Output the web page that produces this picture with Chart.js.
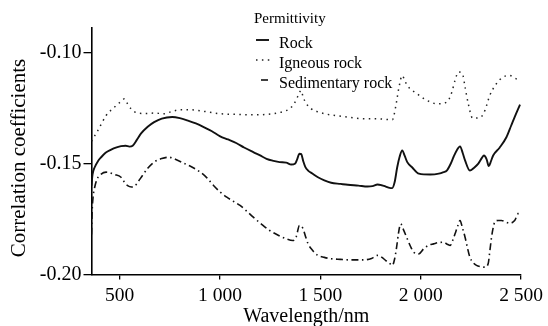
<!DOCTYPE html>
<html lang="en">
<head>
<meta charset="UTF-8">
<title>Correlation coefficients</title>
<script src="https://cdn.jsdelivr.net/npm/chart.js@4.4.0/dist/chart.umd.min.js"></script>
<style>
    html, body { margin: 0; padding: 0; background: #fff; }
    .chart-box { width: 548px; height: 326px; }
</style>
</head>
<body>
<div class="chart-box"><canvas id="chart" width="548" height="326"></canvas></div>
<script>
    const legendTitle = 'Permittivity'
    const seriesNames = ['Rock', 'Igneous rock', 'Sedimentary rock']

    const xTicks = [500, 1000, 1500, 2000, 2500]
    const xTickLabels = ['500', '1 000', '1 500', '2 000', '2 500']
    const yTicks = [-0.20, -0.15, -0.10]
    const yTickLabels = ['-0.20', '-0.15', '-0.10']

    const rockNm = [360, 365, 376, 392, 408, 430, 458, 485, 507, 530, 549, 565, 585, 606, 640, 672, 710, 762, 800, 837,
        880, 919, 960, 1001, 1040, 1083, 1120, 1166, 1200, 1232, 1265, 1297, 1330, 1355, 1375, 1385, 1396, 1405, 1415,
        1425, 1439, 1460, 1488, 1520, 1554, 1600, 1637, 1690, 1735, 1760, 1785, 1805, 1826, 1845, 1858, 1870, 1883,
        1895, 1908, 1920, 1933, 1957, 1991, 2048, 2090, 2114, 2130, 2150, 2163, 2180, 2196, 2210, 2221, 2245, 2265,
        2287, 2305, 2315, 2328, 2339, 2350, 2361, 2393, 2427, 2451, 2468, 2485, 2495]
    const rockR = [-0.160, -0.155, -0.1517, -0.1490, -0.1472, -0.1452, -0.1438, -0.1428, -0.1422, -0.1420, -0.1424,
        -0.1420, -0.1395, -0.1366, -0.1335, -0.1314, -0.1298, -0.1291, -0.1296, -0.1306, -0.1320, -0.1336, -0.1355,
        -0.1378, -0.1392, -0.1409, -0.1428, -0.1449, -0.1464, -0.1479, -0.1488, -0.1494, -0.1496, -0.1505, -0.1500,
        -0.1480, -0.1456, -0.1458, -0.1490, -0.1515, -0.1532, -0.1545, -0.1562, -0.1576, -0.1587, -0.1592, -0.1596,
        -0.1600, -0.1604, -0.1602, -0.1595, -0.1598, -0.1604, -0.1610, -0.1611, -0.1585, -0.1517, -0.1470, -0.1441,
        -0.1465, -0.1494, -0.1517, -0.1546, -0.1550, -0.1546, -0.1539, -0.1532, -0.1500, -0.1472, -0.1440, -0.1423,
        -0.1455, -0.1486, -0.1532, -0.1520, -0.1501, -0.1475, -0.1464, -0.1480, -0.1512, -0.1490, -0.1464, -0.1429,
        -0.1382, -0.1329, -0.1291, -0.1255, -0.1235]

    const igneousNm = [360, 367, 392, 433, 475, 505, 524, 540, 557, 590, 630, 672, 721, 760, 803, 850, 886, 940, 1001,
        1083, 1166, 1265, 1320, 1347, 1370, 1390, 1404, 1414, 1430, 1455, 1490, 1521, 1580, 1637, 1719, 1785, 1859,
        1875, 1892, 1908, 1920, 1933, 1982, 2031, 2081, 2130, 2155, 2171, 2188, 2208, 2221, 2237, 2259, 2295, 2320,
        2344, 2377, 2410, 2443, 2476, 2492]
    const igneousR = [-0.1400, -0.1389, -0.1351, -0.1284, -0.1246, -0.1222, -0.1209, -0.1232, -0.1254, -0.1273,
        -0.1275, -0.1273, -0.1276, -0.1266, -0.1258, -0.1258, -0.1261, -0.1268, -0.1276, -0.1279, -0.1281, -0.1276,
        -0.1265, -0.1254, -0.1230, -0.1194, -0.1171, -0.1200, -0.1230, -0.1254, -0.1268, -0.1276, -0.1285, -0.1291,
        -0.1299, -0.1299, -0.1303, -0.1246, -0.1156, -0.1104, -0.1125, -0.1149, -0.1186, -0.1216, -0.1231, -0.1224,
        -0.1179, -0.1126, -0.1088, -0.1096, -0.1156, -0.1231, -0.1296, -0.1294, -0.1261, -0.1194, -0.1141, -0.1111,
        -0.1104, -0.1119, -0.1125]

    const sedimentaryNm = [360, 363, 368, 376, 388, 400, 433, 475, 507, 525, 540, 560, 573, 590, 614, 640, 672, 710,
        746, 780, 820, 860, 902, 935, 968, 1000, 1034, 1066, 1100, 1130, 1166, 1205, 1248, 1290, 1330, 1363, 1380, 1396,
        1405, 1414, 1425, 1439, 1460, 1488, 1520, 1554, 1600, 1637, 1719, 1755, 1785, 1805, 1826, 1845, 1859, 1870,
        1880, 1890, 1900, 1915, 1933, 1950, 1966, 1991, 2015, 2040, 2064, 2090, 2114, 2135, 2147, 2160, 2171, 2185,
        2196, 2208, 2221, 2233, 2245, 2260, 2278, 2300, 2320, 2336, 2345, 2353, 2361, 2369, 2385, 2402, 2420, 2443,
        2468, 2484, 2495]
    const sedimentaryR = [-0.182, -0.172, -0.165, -0.1607, -0.1570, -0.1554, -0.1539, -0.1550, -0.1562, -0.1585,
        -0.1600, -0.1606, -0.1604, -0.1585, -0.1554, -0.1522, -0.1494, -0.1478, -0.1472, -0.1482, -0.1499, -0.1516,
        -0.1539, -0.1565, -0.1599, -0.1628, -0.1652, -0.1670, -0.1689, -0.1712, -0.1742, -0.1772, -0.1802, -0.1823,
        -0.1839, -0.1847, -0.1830, -0.1779, -0.1782, -0.1794, -0.1825, -0.1862, -0.1890, -0.1914, -0.1923, -0.1929,
        -0.1932, -0.1934, -0.1934, -0.1928, -0.1914, -0.1922, -0.1937, -0.1950, -0.1959, -0.1930, -0.1877, -0.1810,
        -0.1772, -0.1800, -0.1839, -0.1875, -0.1900, -0.1907, -0.1884, -0.1868, -0.1862, -0.1856, -0.1855, -0.1865,
        -0.1869, -0.1845, -0.1817, -0.1780, -0.1757, -0.1790, -0.1832, -0.1880, -0.1922, -0.1945, -0.1959, -0.1965,
        -0.1967, -0.1952, -0.1890, -0.1832, -0.1790, -0.1764, -0.1757, -0.1757, -0.1762, -0.1769, -0.1757, -0.1727,
        -0.1722]

    const SERIF = "'Liberation Serif', 'Times New Roman', serif"

    function toPoints(xs, ys) {
        return xs.map((x, i) => ({x: x, y: ys[i]}))
    }

    // legend in the upper middle of the plot, drawn from the dataset styles
    const legendBox = {
        id: 'legendBox',
        afterDraw(chart) {
            const ctx = chart.ctx
            ctx.save()
            ctx.fillStyle = '#000'
            ctx.textBaseline = 'alphabetic'
            ctx.font = '15px ' + SERIF
            ctx.fillText(legendTitle, 254, 23)
            ctx.font = '16px ' + SERIF
            chart.data.datasets.forEach((ds, i) => {
                const base = 48 + i * 20
                const ly = base - 8
                ctx.strokeStyle = ds.borderColor
                ctx.lineWidth = ds.borderWidth
                if (i === 1) {
                    ctx.setLineDash(ds.borderDash)
                    ctx.beginPath(); ctx.moveTo(256, ly); ctx.lineTo(270, ly); ctx.stroke()
                } else if (i === 2) {
                    ctx.setLineDash([])
                    ctx.beginPath(); ctx.moveTo(261, ly); ctx.lineTo(268, ly); ctx.stroke()
                } else {
                    ctx.setLineDash([])
                    ctx.beginPath(); ctx.moveTo(256, ly); ctx.lineTo(269, ly); ctx.stroke()
                }
                ctx.fillText(ds.label, 279, base)
            })
            // y axis title
            ctx.font = '21px ' + SERIF
            ctx.textAlign = 'center'
            ctx.textBaseline = 'middle'
            ctx.translate(19, 158)
            ctx.rotate(-Math.PI / 2)
            ctx.fillText('Correlation coefficients', 0, 0)
            ctx.restore()
        }
    }

    new Chart(document.getElementById('chart'), {
        type: 'line',
        data: {
            datasets: [
                {
                    label: seriesNames[0],
                    data: toPoints(rockNm, rockR),
                    borderColor: '#111',
                    borderWidth: 1.9,
                    borderDash: [],
                },
                {
                    label: seriesNames[1],
                    data: toPoints(igneousNm, igneousR),
                    borderColor: '#222',
                    borderWidth: 1.5,
                    borderDash: [1.5, 4.4],
                },
                {
                    label: seriesNames[2],
                    data: toPoints(sedimentaryNm, sedimentaryR),
                    borderColor: '#111',
                    borderWidth: 1.6,
                    borderDash: [7, 3.5, 1.5, 3.5],
                },
            ],
        },
        options: {
            responsive: false,
            animation: false,
            devicePixelRatio: 1,
            elements: {
                point: {radius: 0},
                line: {cubicInterpolationMode: 'monotone', borderCapStyle: 'butt', fill: false},
            },
            layout: {padding: {top: 28, right: 24, left: 0, bottom: 0}},
            plugins: {
                legend: {display: false},
                tooltip: {enabled: false},
            },
            scales: {
                x: {
                    type: 'linear',
                    min: 360,
                    max: 2500,
                    afterBuildTicks: (scale) => { scale.ticks = xTicks.map(v => ({value: v})) },
                    afterFit: (scale) => { scale.height = 51.5 },
                    ticks: {
                        color: '#000',
                        font: {family: SERIF, size: 19.5},
                        padding: 5,
                        maxRotation: 0,
                        autoSkip: false,
                        callback: (v) => xTickLabels[xTicks.indexOf(v)],
                    },
                    grid: {drawOnChartArea: false, drawTicks: true, tickLength: 5, color: '#000', lineWidth: 1.3},
                    border: {display: true, color: '#000', width: 1.6},
                    title: {
                        display: true,
                        text: 'Wavelength/nm',
                        color: '#000',
                        font: {family: SERIF, size: 20, lineHeight: 1},
                        padding: {top: 0, bottom: -1},
                    },
                },
                y: {
                    min: -0.20,
                    max: -0.089,
                    afterBuildTicks: (scale) => { scale.ticks = yTicks.map(v => ({value: v})) },
                    afterFit: (scale) => { scale.width = 91.5 },
                    ticks: {
                        color: '#000',
                        font: {family: SERIF, size: 20},
                        padding: 2,
                        callback: (v) => yTickLabels[yTicks.findIndex(t => Math.abs(t - v) < 1e-9)],
                    },
                    grid: {drawOnChartArea: false, drawTicks: true, tickLength: 8, color: '#000', lineWidth: 1.3},
                    border: {display: true, color: '#000', width: 1.6},
                },
            },
        },
        plugins: [legendBox],
    })
</script>
</body>
</html>
